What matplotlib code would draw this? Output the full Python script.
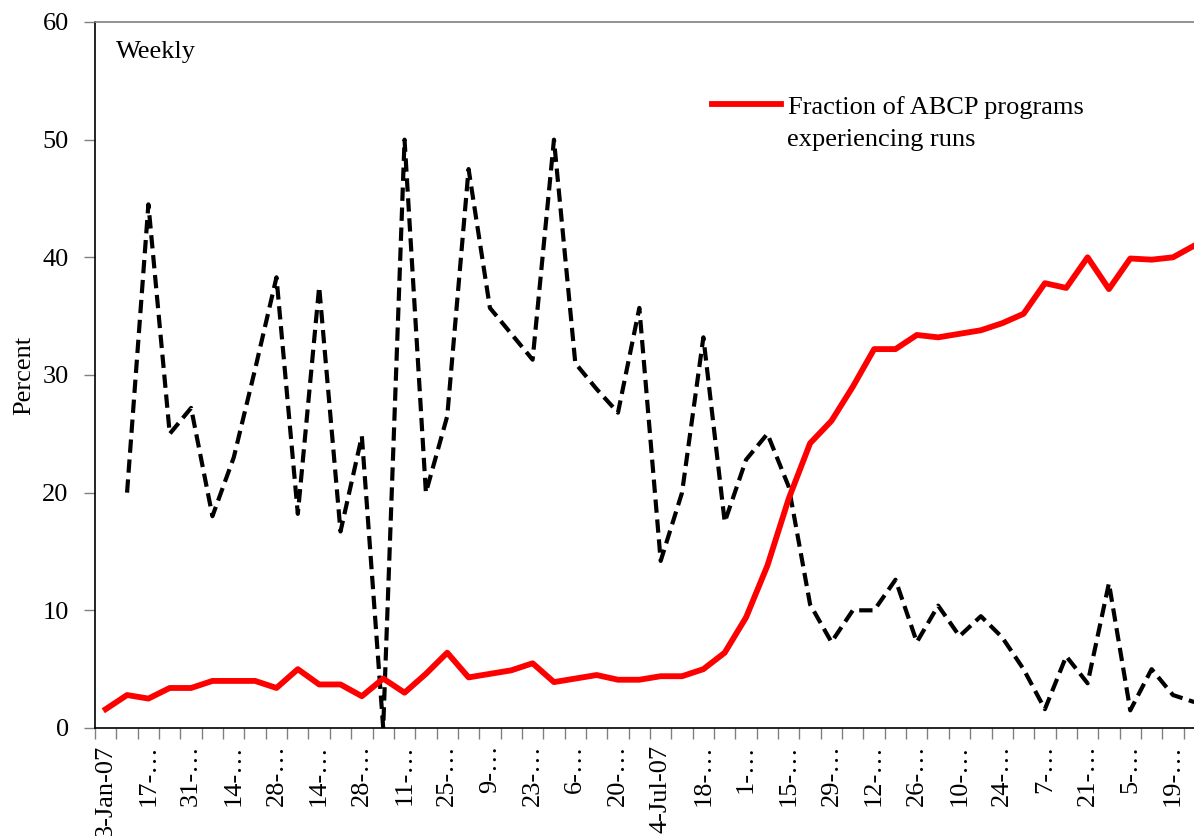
import numpy as np
import matplotlib
matplotlib.use('Agg')
import matplotlib.pyplot as plt

# ===============================
# Dados semanais (2007)
# ===============================
rotulos = ['3-Jan-07', '17-…', '31-…', '14-…', '28-…', '14-…', '28-…',
           '11-…', '25-…', '9-…', '23-…', '6-…', '20-…', '4-Jul-07',
           '18-…', '1-…', '15-…', '29-…', '12-…', '26-…', '10-…',
           '24-…', '7-…', '21-…', '5-…', '19-…']

# Fração de programas ABCP com corridas (linha vermelha)
fracao_runs = [1.6, 2.8, 2.5, 3.4, 3.4, 4.0, 4.0, 4.0, 3.4, 5.0,
               3.7, 3.7, 2.7, 4.2, 3.0, 4.6, 6.4, 4.3, 4.6, 4.9,
               5.5, 3.9, 4.2, 4.5, 4.1, 4.1, 4.4, 4.4, 5.0, 6.4,
               9.4, 13.8, 19.5, 24.2, 26.1, 29.0, 32.2, 32.2, 33.4, 33.2,
               33.5, 33.8, 34.4, 35.2, 37.8, 37.4, 40.0, 37.3, 39.9, 39.8,
               40.0, 41.0]

# Série tracejada (começa na segunda semana)
serie_tracejada = [np.nan, 20.0, 44.5, 25.0, 27.2, 18.0, 23.0, 30.5, 38.3, 18.2,
                   37.5, 16.7, 24.8, 0.0, 50.0, 20.0, 26.5, 47.5, 35.7, 33.5,
                   31.3, 50.0, 31.0, 28.8, 26.8, 35.7, 14.2, 20.0, 33.2, 17.5,
                   22.8, 25.0, 20.5, 10.5, 7.3, 10.0, 10.0, 12.6, 7.3, 10.4,
                   7.8, 9.5, 7.7, 5.0, 1.6, 6.1, 3.8, 12.3, 1.5, 5.0,
                   2.8, 2.2]

semanas = np.arange(len(fracao_runs))

plt.rcParams['font.family'] = ['Liberation Serif', 'DejaVu Serif']
tam = 19

fig = plt.figure(figsize=(11.94, 8.36), dpi=100)
ax = fig.add_axes([0.0796, 0.1292, 0.9296, 0.8445])

ax.plot(semanas, serie_tracejada, color='black', linewidth=3,
        linestyle=(0, (3.2, 1.6)))
ax.plot(semanas, fracao_runs, color='#FF0000', linewidth=4.2,
        label='Fraction of ABCP programs')

ax.set_xlim(-0.5, len(semanas) - 0.5)
ax.set_ylim(0, 60)
ax.set_yticks(np.arange(0, 61, 10))

# rótulos a cada duas semanas, marcas entre as categorias
ax.set_xticks(semanas[::2])
ax.set_xticklabels(rotulos, rotation=90, fontsize=tam)
ax.set_xticks(np.arange(-0.5, len(semanas), 1), minor=True)
ax.tick_params(axis='x', which='major', length=0, pad=12)
ax.tick_params(axis='x', which='minor', length=8, color='#808080', width=1)
ax.tick_params(axis='y', length=8, color='#808080', width=1, pad=11, labelsize=tam)

for lado in ['left', 'bottom']:
    ax.spines[lado].set_color('black')
    ax.spines[lado].set_linewidth(1.2)
ax.spines['top'].set_color('#808080')
ax.spines['top'].set_linewidth(1.2)
ax.spines['right'].set_visible(False)

ax.set_ylabel('Percent', fontsize=tam)
ax.yaxis.set_label_coords(-0.054, 0.5)

ax.text(0.019, 0.957, 'Weekly', transform=ax.transAxes, fontsize=tam,
        va='center', ha='left')

# legenda: primeira linha junto ao traço, segunda linha logo abaixo
ax.legend(loc='center left', bbox_to_anchor=(0.556, 0.8796), frameon=False,
          fontsize=tam, handlelength=2.6, handletextpad=0.27,
          borderaxespad=0, borderpad=0)
ax.text(0.6234, 0.833, 'experiencing runs', transform=ax.transAxes,
        fontsize=tam, va='center', ha='left')

fig.savefig('out.png', dpi=100)
